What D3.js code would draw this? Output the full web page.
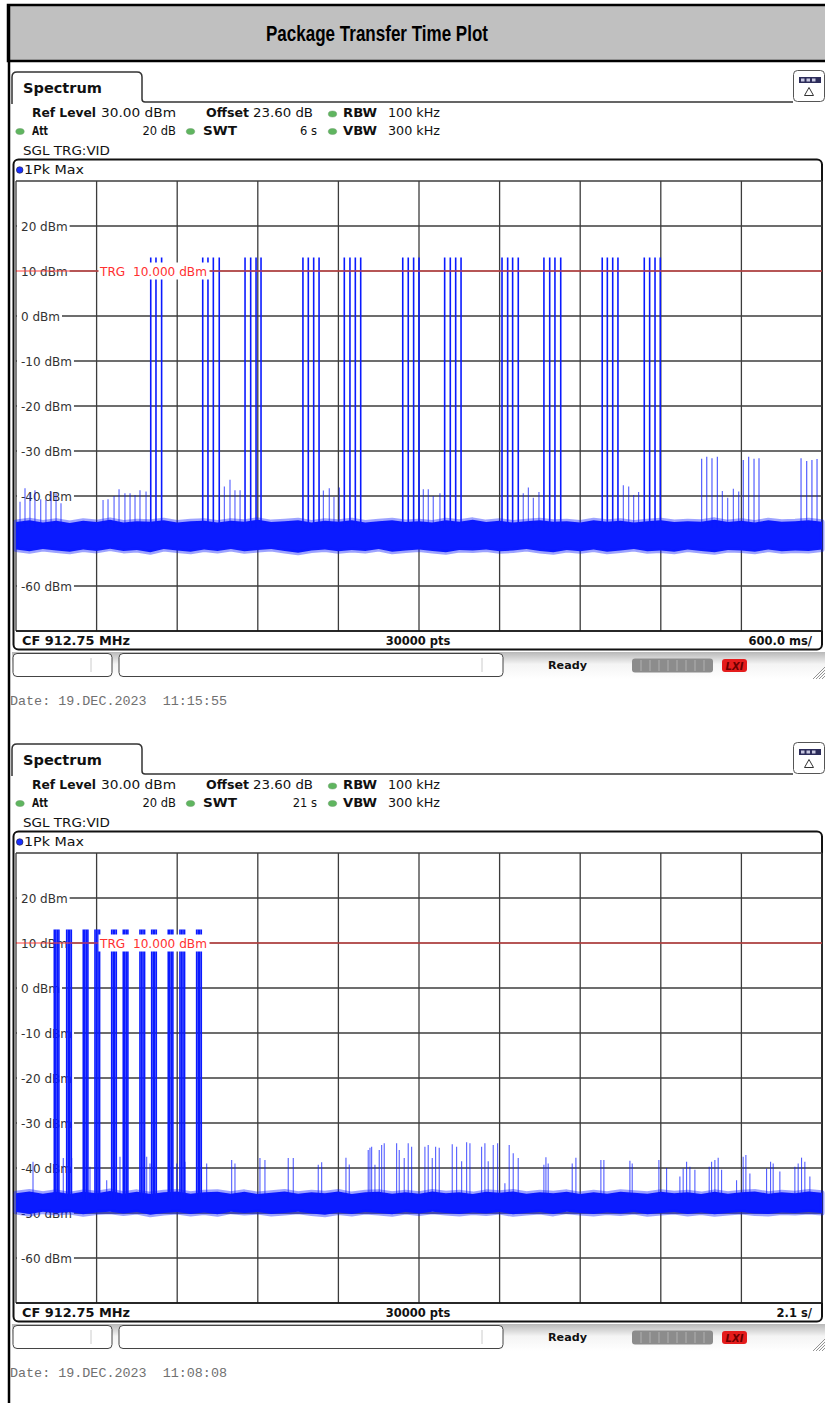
<!DOCTYPE html>
<html>
<head>
<meta charset="utf-8">
<script src="https://cdn.jsdelivr.net/npm/d3@7"></script>
<style>
body{margin:0;background:#fff}
svg text{font-family:"DejaVu Sans",Verdana,sans-serif}
</style>
</head>
<body>
<div class="chart"></div>
<script>
// Package transfer time plot -- two zero-span sweeps

const width=825
const height=1403

// level axis (both sweeps)
const dbmTicks=[20,10,0,-10,-20,-30,-40,-50,-60]
const trigLevel=10
const burstLevel=13

// ---- sweep 1 : 6 s, 600 ms/div (time in ms)
const burst1=[1003,1042,1084, 1390,1429,1469,1513, 1705,1747,1787,1824,
    2136,2176,2216,2256, 2444,2486,2526,2566, 2879,2920,2960,3000,
    3191,3233,3273,3313, 3618,3660,3697,3739, 3930,3973,4012,4055,
    4364,4402,4442,4481, 4677,4717,4757,4796]
const low1T=[5104,5142,5181,5221, 5414,5454,5494,5531, 5844,5886,5925,5963]
const low1V=[-31.7,-31.3,-31.6,-31.3, -32.0,-31.3,-31.7,-31.6, -31.6,-32.2,-32.0,-31.8]
const spike1T=[30,67,104,141,184,223,261,298,335, 648,685,730,767,811,849,886,923,968,
    1551,1593,1630,1668, 2288,2332,2367,2407, 3032,3069,3106,3156,
    3776,3814,3851,3893, 4521,4561,4598,4635, 5258,5298,5340,5380]
const spike1V=[-41.3,-38.3,-39.4,-38.7,-40.7,-40.9,-39.0,-39.4,-41.6, -40.9,-40.7,-40.0,-38.5,-39.4,-39.4,-39.8,-38.7,-39.0,
    -37.9,-36.4,-38.7,-38.7, -38.8,-38.3,-40.2,-38.1, -38.5,-38.5,-40.0,-39.4,
    -39.4,-38.1,-40.4,-39.1, -37.6,-37.9,-39.8,-39.1, -38.9,-40.4,-38.4,-39.0]
// noise floor envelope, one value every 100 ms
const floor1Top=[-45.8,-45.4,-45.9,-45.5,-46.0,-45.5,-45.8,-45.3,-45.9,-45.6,-45.7,-45.4,-45.9,-45.6,-45.5,-45.9,
    -45.5,-45.7,-45.3,-45.8,-45.6,-45.4,-45.9,-45.5,-45.7,-45.4,-45.9,-45.6,-45.4,-45.8,-45.6,-45.9,
    -45.4,-45.7,-45.3,-45.8,-45.5,-45.9,-45.6,-45.4,-45.7,-45.6,-45.9,-45.4,-45.7,-45.5,-45.9,-45.6,
    -45.4,-45.8,-45.6,-45.7,-45.3,-45.8,-45.5,-45.9,-45.4,-45.7,-45.6,-45.4,-45.7]
const floor1Bot=[-51.9,-52.3,-51.8,-52.1,-52.4,-51.9,-52.2,-51.7,-52.2,-52.0,-52.5,-51.8,-52.1,-52.4,-51.9,-52.2,
    -51.8,-52.3,-52.0,-51.8,-52.2,-52.6,-52.1,-51.9,-52.3,-52.0,-52.2,-51.8,-52.4,-52.1,-51.9,-52.2,
    -52.5,-52.0,-52.1,-51.9,-52.3,-52.1,-51.8,-52.2,-52.5,-52.0,-52.3,-51.9,-52.4,-52.1,-51.8,-52.3,
    -52.1,-52.4,-51.9,-52.2,-52.5,-52.0,-52.1,-52.4,-51.9,-52.3,-52.1,-52.2,-51.9]

// ---- sweep 2 : 21 s, 2.1 s/div (time in s)
const burst2=[0.998,1.038,1.078,1.118, 1.321,1.361,1.401,1.441, 1.753,1.793,1.833,1.873,
    2.058,2.098,2.138,2.178, 2.493,2.533,2.573,2.613, 2.795,2.835,2.875,2.915,
    3.230,3.270,3.310,3.350, 3.535,3.575,3.615,3.655, 3.967,4.007,4.047,4.087,
    4.272,4.312,4.352,4.392, 4.707,4.747,4.787,4.827]
const spike2T=[0.443,1.232,1.451,1.928,2.363,2.709,3.405,3.491,4.186,4.402,4.968,5.619,5.705,6.356,6.486,7.093,7.224,
    7.875,7.964,8.597,8.683,9.177,9.222,9.266,9.352,9.464,9.527,9.594,9.917,9.985,10.115,10.219,10.308,
    10.654,10.740,10.845,10.933,11.027,11.366,11.480,11.611,11.741,11.827,12.131,12.217,12.303,12.434,12.548,
    12.738,12.850,12.955,13.085,13.754,13.807,13.866,14.492,14.588,15.239,15.317,15.995,16.055,16.750,16.951,
    17.297,17.383,17.472,17.558,17.688,18.061,18.123,18.209,18.295,18.384,18.774,18.946,19.017,19.121,
    19.556,19.660,19.728,19.902,20.293,20.379,20.467,20.553,20.684]
const spike2V=[-38.6,-37.8,-37.8,-39.7,-42.7,-37.5,-37.5,-39.0,-39.0,-38.6,-39.0,-38.2,-39.0,-37.8,-38.2,-37.8,-37.8,
    -39.3,-38.7,-37.7,-39.2,-36.0,-35.5,-35.3,-39.3,-36.0,-34.9,-34.5,-34.5,-36.0,-37.8,-34.5,-35.3,
    -35.3,-34.9,-37.8,-35.3,-35.5,-34.7,-35.3,-38.5,-34.3,-34.5,-35.3,-34.5,-38.5,-34.9,-34.5,
    -43.4,-34.9,-36.7,-37.8,-39.3,-37.6,-39.0,-39.0,-37.7,-38.2,-38.2,-38.4,-39.0,-38.2,-40.0,
    -41.9,-40.1,-38.6,-39.7,-40.4,-39.7,-38.6,-38.2,-37.7,-40.4,-42.7,-37.5,-37.1,-41.2,
    -40.1,-38.6,-39.0,-40.8,-39.7,-39.0,-37.7,-38.6,-41.9]
// noise floor envelope, one value every 0.35 s
const floor2Top=[-45.6,-45.2,-45.7,-45.3,-45.8,-45.3,-45.6,-45.1,-45.7,-45.3,-45.8,-45.4,-45.2,-45.7,-45.4,-45.3,
    -45.7,-45.3,-45.8,-45.5,-45.2,-45.7,-45.4,-45.6,-45.2,-45.8,-45.4,-45.3,-45.7,-45.4,-45.7,-45.2,
    -45.6,-45.4,-45.8,-45.3,-45.5,-45.2,-45.7,-45.4,-45.6,-45.3,-45.8,-45.4,-45.7,-45.3,-45.5,-45.7,
    -45.3,-45.6,-45.4,-45.8,-45.3,-45.7,-45.4,-45.2,-45.7,-45.4,-45.6,-45.2,-45.5]
const floor2Bot=[-49.8,-50.2,-49.7,-50.0,-49.8,-50.3,-49.9,-49.7,-50.1,-49.8,-50.4,-50.0,-49.8,-50.2,-49.9,-50.3,
    -49.7,-50.0,-49.8,-50.2,-50.0,-49.7,-50.1,-50.4,-49.9,-50.2,-49.8,-50.0,-50.3,-49.8,-50.1,-49.7,
    -50.0,-50.2,-49.9,-50.1,-49.8,-50.3,-50.0,-49.8,-50.2,-49.7,-50.0,-50.2,-49.9,-50.1,-49.8,-50.3,
    -50.0,-49.8,-50.2,-49.9,-50.3,-50.0,-49.8,-50.1,-50.2,-49.9,-50.0,-49.8,-50.0]

const sweeps=[
  {top:0, span:6000, swt:'6 s', per:'600.0 ms/', date:'Date: 19.DEC.2023  11:15:55',
   bursts:burst1, lowT:low1T, lowV:low1V, spT:spike1T, spV:spike1V, fTop:floor1Top, fBot:floor1Bot},
  {top:672, span:21, swt:'21 s', per:'2.1 s/', date:'Date: 19.DEC.2023  11:08:08',
   bursts:burst2, lowT:[], lowV:[], spT:spike2T, spV:spike2V, fTop:floor2Top, fBot:floor2Bot}
]

const blue='#0a1aff'
const gx0=16, gx1=822, gy0=181, gy1=631

const svg=d3.select('.chart').append('svg')
    .attr('width',width).attr('height',height)
    .attr('viewBox',[0,0,width,height])

// title band
svg.append('rect').attr('x',8).attr('y',5).attr('width',830).attr('height',56)
    .attr('fill','#c0c0c0').attr('stroke','#000').attr('stroke-width',2.5)
svg.append('text').attr('x',266).attr('y',41)
    .style('font-family','"Liberation Sans",Arial,sans-serif')
    .attr('font-size',22).attr('font-weight','bold')
    .attr('textLength',222).attr('lengthAdjust','spacingAndGlyphs')
    .text('Package Transfer Time Plot')
// page left border
svg.append('line').attr('x1',9).attr('x2',9).attr('y1',5).attr('y2',height)
    .attr('stroke','#000').attr('stroke-width',2.5)

const defs=svg.append('defs')
const grad=defs.append('linearGradient').attr('id','sbar').attr('x1',0).attr('x2',0).attr('y1',0).attr('y2',1)
grad.append('stop').attr('offset','0%').attr('stop-color','#b8b8b8')
grad.append('stop').attr('offset','45%').attr('stop-color','#f4f4f4')
grad.append('stop').attr('offset','100%').attr('stop-color','#fff')

function label(g,txt,x,y,opt={}){
  const t=g.append('text').attr('x',x).attr('y',y).text(txt)
      .attr('font-size',opt.size||11.5).attr('fill',opt.fill||'#111')
  if(opt.bold) t.attr('font-weight','bold')
  if(opt.anchor) t.attr('text-anchor',opt.anchor)
  if(opt.len) t.attr('textLength',opt.len).attr('lengthAdjust','spacingAndGlyphs')
  return t
}
function dot(g,cx,cy,col){
  g.append('ellipse').attr('cx',cx).attr('cy',cy).attr('rx',4.2).attr('ry',3)
      .attr('fill',col).attr('stroke','#6a9a6a').attr('stroke-width',0.5)
}

sweeps.forEach(sw=>{
  const g=svg.append('g').attr('transform',`translate(0,${sw.top})`)

  const x=d3.scaleLinear().domain([0,sw.span]).range([gx0,gx1])
  const y=d3.scaleLinear().domain([-70,30]).range([gy1,gy0])

  // tab + header line
  g.append('path').attr('d','M12,104 V77 Q12,72 17,72 H137 Q142,72 142,77 V99 Q142,102 145,102 H793')
      .attr('fill','none').attr('stroke','#333').attr('stroke-width',1.5)
  label(g,'Spectrum',23,93,{size:14.5,len:79}).attr('font-weight',600)
  // top right icon
  g.append('rect').attr('x',793.5).attr('y',70.5).attr('width',31).attr('height',31).attr('rx',4)
      .attr('fill','#fff').attr('stroke','#555')
  g.append('rect').attr('x',799).attr('y',77).attr('width',22).attr('height',6).attr('fill','#2c2c5a')
  d3.range(3).forEach(i=>g.append('rect').attr('x',801+i*5.5).attr('y',78.5).attr('width',3.5).attr('height',3).attr('fill','#c8c8e0'))
  g.append('path').attr('d','M809,87.5 L813.5,95.5 L804.5,95.5 Z').attr('fill','none').attr('stroke','#333').attr('stroke-width',1)

  // settings rows
  label(g,'Ref Level',32,117,{bold:true,len:64})
  label(g,'30.00 dBm',101,117,{len:75})
  label(g,'Offset',206,117,{bold:true,len:43})
  label(g,'23.60 dB',253,117,{len:60})
  dot(g,332.5,114,'#5fb55f')
  label(g,'RBW',343,117,{bold:true,len:34})
  label(g,'100 kHz',388,117,{len:52})
  dot(g,20,131.5,'#5fb55f')
  label(g,'Att',32,135,{bold:true,len:16})
  label(g,'20 dB',176,135,{anchor:'end'})
  dot(g,190.5,131.5,'#5fb55f')
  label(g,'SWT',203,135,{bold:true,len:34})
  label(g,sw.swt,317,135,{anchor:'end'})
  dot(g,332.5,131.5,'#5fb55f')
  label(g,'VBW',343,135,{bold:true,len:34})
  label(g,'300 kHz',388,135,{len:52})
  label(g,'SGL TRG:VID',23,155,{len:87})

  // trace window
  g.append('rect').attr('x',13.5).attr('y',159.5).attr('width',808.5).attr('height',490)
      .attr('rx',5).attr('fill','#fff').attr('stroke','#111').attr('stroke-width',2)
  g.append('circle').attr('cx',19.7).attr('cy',170).attr('r',3.3).attr('fill','#1a2fff').attr('stroke','#223')
      .attr('stroke-width',0.6)
  label(g,'1Pk Max',24,174,{len:60})

  // grid
  const grid=g.append('g').attr('stroke','#3c3c3c').attr('stroke-width',1.3)
  grid.selectAll('line.v').data(d3.range(11).map(i=>i*sw.span/10)).join('line')
      .attr('x1',d=>x(d)).attr('x2',d=>x(d)).attr('y1',gy0).attr('y2',gy1)
  grid.selectAll('line.h').data(d3.range(-70,31,10)).join('line').attr('class','h')
      .attr('x1',gx0).attr('x2',gx1).attr('y1',d=>y(d)).attr('y2',d=>y(d))

  // level labels with white backing
  const tl=g.append('g')
  dbmTicks.forEach(v=>{
    const t=label(tl,`${v} dBm`,21,y(v)+4.5,{size:12,fill:'#333'})
    const w=t.node().getComputedTextLength()
    tl.insert('rect','text').attr('x',gx0+1).attr('y',y(v)-7).attr('width',w+6).attr('height',14).attr('fill','#fff')
  })

  // noise floor (core + lighter fringe)
  const fx=d3.scaleLinear().domain([0,sw.fTop.length-1]).range([0,sw.span])
  const area=d3.area().x((d,i)=>x(fx(i))).y0((d,i)=>y(sw.fBot[i])).y1(d=>y(d))
  g.append('path').datum(sw.fTop).attr('d',area).attr('fill',blue)
      .attr('stroke',blue).attr('stroke-width',5).attr('stroke-opacity',0.4).attr('stroke-linejoin','round')

  // small spikes
  g.append('g').selectAll('line').data(sw.spT).join('line')
      .attr('x1',d=>x(d)).attr('x2',d=>x(d)).attr('y1',y(-47)).attr('y2',(d,i)=>y(sw.spV[i]))
      .attr('stroke',blue).attr('stroke-width',1.1).attr('stroke-opacity',0.7)
  // weak packets
  g.append('g').selectAll('line').data(sw.lowT).join('line')
      .attr('x1',d=>x(d)).attr('x2',d=>x(d)).attr('y1',y(-47)).attr('y2',(d,i)=>y(sw.lowV[i]))
      .attr('stroke',blue).attr('stroke-width',1.2).attr('stroke-opacity',0.7)
  // strong packets
  g.append('g').selectAll('line').data(sw.bursts).join('line')
      .attr('x1',d=>x(d)).attr('x2',d=>x(d)).attr('y1',y(-47)).attr('y2',y(burstLevel))
      .attr('stroke',blue).attr('stroke-width',1.6)

  // trigger line and label
  g.append('line').attr('x1',gx0).attr('x2',gx1).attr('y1',y(trigLevel)).attr('y2',y(trigLevel))
      .attr('stroke','#ff4040').attr('stroke-width',1.2)
  g.append('rect').attr('x',98.5).attr('y',y(trigLevel)-8.5).attr('width',111).attr('height',17).attr('fill','#fff')
  label(g,'TRG  10.000 dBm',100,y(trigLevel)+5,{size:12.5,fill:'#ff3030',len:107}).style('white-space','pre')

  // footer
  g.append('line').attr('x1',gx0).attr('x2',gx1).attr('y1',gy1).attr('y2',gy1).attr('stroke','#111').attr('stroke-width',1.5)
  label(g,'CF 912.75 MHz',22,645,{bold:true,size:11.5,len:108})
  label(g,'30000 pts',418,645,{bold:true,size:11.5,anchor:'middle'})
  label(g,sw.per,812,645,{bold:true,size:11.5,anchor:'end'})

  // status bar
  g.append('rect').attr('x',12).attr('y',652).attr('width',813).attr('height',27).attr('fill','url(#sbar)')
  g.append('rect').attr('x',13).attr('y',653.5).attr('width',99).attr('height',23).attr('rx',4)
      .attr('fill','#fff').attr('stroke','#444')
  g.append('line').attr('x1',91).attr('x2',91).attr('y1',658).attr('y2',672).attr('stroke','#ccc')
  g.append('rect').attr('x',119).attr('y',653.5).attr('width',384).attr('height',23).attr('rx',4)
      .attr('fill','#fff').attr('stroke','#444')
  g.append('line').attr('x1',482).attr('x2',482).attr('y1',658).attr('y2',672).attr('stroke','#ccc')
  label(g,'Ready',548,669,{bold:true,size:11,len:39})
  g.append('rect').attr('x',632).attr('y',658.5).attr('width',81).attr('height',14).attr('rx',3).attr('fill','#8c8c8c')
  d3.range(1,9).forEach(i=>g.append('line').attr('x1',632+i*9).attr('x2',632+i*9).attr('y1',660).attr('y2',671)
      .attr('stroke','#b0b0b0'))
  g.append('rect').attr('x',722).attr('y',659).attr('width',25).attr('height',13).attr('rx',3).attr('fill','#e41c1c')
  g.append('text').attr('x',734.5).attr('y',669.5).attr('text-anchor','middle').attr('font-size',10)
      .attr('font-weight','bold').attr('font-style','italic').attr('fill','#6a0000').text('LXI')
  d3.range(4).forEach(i=>g.append('line').attr('x1',813+i*3).attr('y1',679).attr('x2',825).attr('y2',667+i*3)
      .attr('stroke','#777').attr('stroke-width',0.8))

  // date stamp
  g.append('text').attr('x',10).attr('y',705).style('font-family','"Liberation Mono","Courier New",monospace')
      .style('white-space','pre').attr('font-size',13.4).attr('fill','#707070').text(sw.date)
})
</script>
</body>
</html>
